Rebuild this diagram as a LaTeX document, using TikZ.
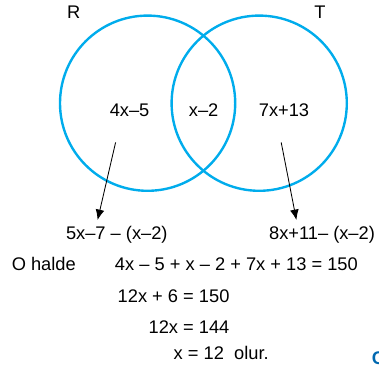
\documentclass[tikz,border=0pt]{standalone}
\usepackage{fontspec}
\setmainfont{Liberation Sans}
\usepackage{tikz}
\usetikzlibrary{arrows.meta}
\definecolor{vennblue}{RGB}{0,172,236}
\definecolor{keyblue}{RGB}{0,104,176}

\begin{document}
\begin{tikzpicture}[lbl/.style={anchor=base,inner sep=0pt},
  set/.style={draw=vennblue,line width=1.7pt},
  pointer/.style={-{Latex[length=2.6mm,width=2.2mm]},line width=0.6pt}]
\fontsize{13}{15}\selectfont
\useasboundingbox (0,0) rectangle (9.475,9.15);
\draw[set] (3.69,6.57) circle(2.19);
\draw[set] (6.48,6.57) circle(2.19);
\node[lbl] (nameR) at (1.84,8.675) {R};
\node[lbl] (nameT) at (8.0,8.675) {T};
\node[lbl] (onlyR) at (3.24,6.225) {4x–5};
\node[lbl] (both) at (5.09,6.225) {x–2};
\node[lbl] (onlyT) at (7.10,6.225) {7x+13};
\coordinate (fromR) at (2.89,5.59);
\coordinate (toR) at (2.44,3.65);
\coordinate (fromT) at (7.03,5.59);
\coordinate (toT) at (7.41,3.65);
\draw[pointer] (fromR) -- (toR);
\draw[pointer] (fromT) -- (toT);
\node[lbl] (totalR) at (2.92,3.16) {5x–7 – (x–2)};
\node[lbl] (totalT) at (8.05,3.16) {8x+11– (x–2)};
\node[lbl] (ohalde) at (1.095,2.40) {O halde};
\node[lbl] (eqA) at (5.91,2.40) {4x – 5 + x – 2 + 7x + 13 = 150};
\node[lbl] (eqB) at (4.34,1.60) {12x + 6 = 150};
\node[lbl] (eqC) at (4.725,0.825) {12x = 144};
\node[lbl] (eqD) at (5.53,0.175) {x = 12~~olur.};
\node[lbl,anchor=base west,text=keyblue,font=\bfseries] (key) at (9.29,0.03) {C};
\end{tikzpicture}
\end{document}
